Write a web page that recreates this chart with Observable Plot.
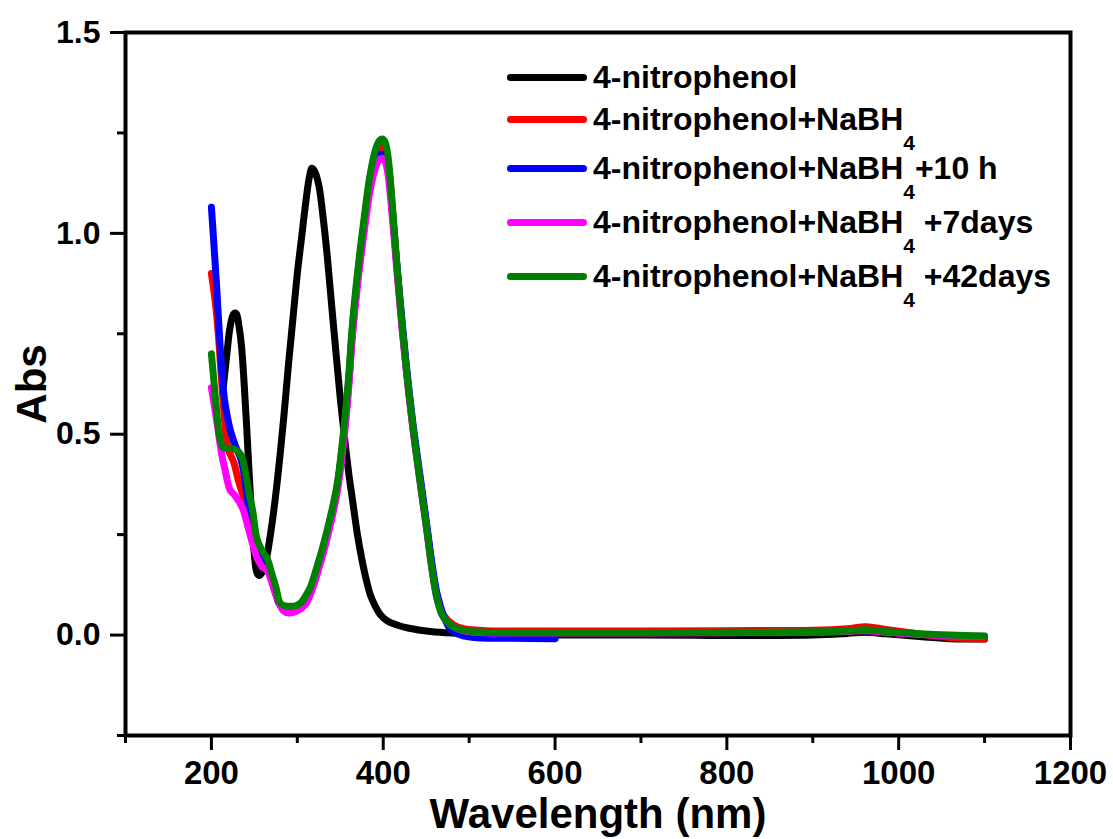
<!DOCTYPE html>
<html>
<head>
<meta charset="utf-8">
<script src="https://cdn.jsdelivr.net/npm/d3@7"></script>
<script src="https://cdn.jsdelivr.net/npm/@observablehq/plot@0.6"></script>
<style>
  html, body { margin: 0; padding: 0; background: #fff; }
  #wrap { position: relative; width: 1113px; height: 839px; }
  #wrap svg { position: absolute; left: 0; top: 0; }
  .leg { position: absolute; left: 0; top: 0; font-family: "Liberation Sans", Arial, sans-serif; font-weight: bold; font-size: 32px; color: #000; }
  .row { position: absolute; left: 507px; height: 0; white-space: nowrap; }
  .row .sw { position: absolute; left: 0; top: -3.5px; width: 80px; height: 7px; border-radius: 4px; }
  .row .tx { position: absolute; left: 86px; top: -19px; line-height: 38px; }
  .row sub { font-size: 21px; vertical-align: -20px; line-height: 0; }
</style>
</head>
<body>
<div id="wrap"></div>
<script>
// ---- data ----
const seriesNames = ["4-nitrophenol", "4-nitrophenol+NaBH4", "4-nitrophenol+NaBH4+10 h", "4-nitrophenol+NaBH4 +7days", "4-nitrophenol+NaBH4 +42days"];
const seriesColors = ["#000000", "#ff0000", "#0000ff", "#ff00ff", "#008000"];

const wlBlack = [214,218,222,226,229,232,235,238,241,244,247,250,253,256,260,264,268,272,276,280,285,290,295,300,305,310,314,317,320,325,330,335,340,346,350,354,360,364,370,375,380,385,390,397,405,416,430,455,480,520,600,700,800,900,940,962,985,1020,1060,1100];
const absBlack = [0.62,0.70,0.77,0.80,0.80,0.77,0.72,0.63,0.52,0.40,0.29,0.20,0.155,0.148,0.16,0.19,0.24,0.30,0.37,0.45,0.56,0.68,0.79,0.90,0.99,1.08,1.14,1.162,1.155,1.12,1.04,0.94,0.82,0.68,0.59,0.51,0.40,0.34,0.25,0.19,0.14,0.10,0.075,0.05,0.035,0.025,0.017,0.009,0.005,0.002,0.000,0.000,-0.001,0.000,0.004,0.007,0.003,-0.003,-0.009,-0.010];

const wlRed = [200,202,205,208,211,214,217,220,226,232,238,243,248,253,258,265,272,280,290,300,309,315,320,325,331,338,346,354,360,364,370,377,385,392,396,399,402,405,408,411,416,422,428,435,443,451,457,463,470,482,495,520,600,700,800,900,940,962,985,1020,1060,1100];
const absRed = [0.90,0.87,0.82,0.75,0.66,0.57,0.50,0.46,0.43,0.38,0.34,0.30,0.26,0.22,0.20,0.18,0.13,0.075,0.068,0.072,0.09,0.112,0.145,0.18,0.225,0.285,0.365,0.50,0.64,0.76,0.89,1.015,1.14,1.20,1.213,1.215,1.21,1.185,1.13,1.05,0.915,0.77,0.64,0.51,0.385,0.262,0.165,0.092,0.05,0.025,0.015,0.011,0.010,0.010,0.011,0.012,0.016,0.021,0.014,0.004,-0.006,-0.010];

const wlBlue = [200,203,206,209,212,215,218,222,226,230,234,238,243,248,253,258,265,272,280,290,300,309,315,320,325,331,338,346,354,360,364,370,377,385,392,396,399,402,405,408,411,416,422,428,435,443,451,457,463,470,478,490,510,550,600];
const absBlue = [1.065,0.97,0.87,0.76,0.66,0.59,0.55,0.51,0.483,0.46,0.44,0.40,0.32,0.26,0.22,0.20,0.18,0.13,0.075,0.066,0.07,0.088,0.11,0.142,0.177,0.222,0.28,0.36,0.495,0.63,0.75,0.88,1.00,1.12,1.18,1.195,1.197,1.19,1.17,1.12,1.045,0.92,0.78,0.65,0.52,0.395,0.27,0.175,0.10,0.05,0.015,0.000,-0.007,-0.008,-0.009];

const wlMagenta = [200,205,212,216,222,228,236,245,253,259,265,275,284,290,300,310,315,320,325,331,338,346,354,360,364,370,377,385,392,396,399,402,405,408,411,416,422,428,435,443,451,457,463,470,482,495,520,600,700,800,900,940,962,985,1020,1060,1100];
const absMagenta = [0.616,0.55,0.45,0.41,0.36,0.346,0.317,0.25,0.193,0.17,0.16,0.10,0.06,0.055,0.06,0.078,0.10,0.13,0.165,0.21,0.27,0.35,0.48,0.62,0.74,0.87,0.99,1.11,1.17,1.185,1.187,1.18,1.155,1.10,1.03,0.905,0.76,0.635,0.505,0.38,0.255,0.16,0.088,0.045,0.02,0.01,0.006,0.005,0.005,0.006,0.007,0.009,0.011,0.007,0.002,-0.002,-0.003];

const wlGreen = [200,203,206,210,214,220,226,232,236,240,244,248,253,259,265,270,275,280,285,292,298,304,309,315,320,325,331,338,346,354,360,364,370,377,385,392,396,399,402,405,408,411,416,422,428,435,443,451,457,463,470,482,495,520,600,700,800,900,940,962,985,1020,1060,1100];
const absGreen = [0.70,0.63,0.56,0.49,0.467,0.465,0.463,0.455,0.44,0.40,0.35,0.31,0.24,0.21,0.19,0.155,0.12,0.08,0.073,0.072,0.073,0.08,0.095,0.118,0.15,0.185,0.23,0.29,0.37,0.51,0.65,0.77,0.90,1.025,1.15,1.215,1.232,1.235,1.228,1.20,1.14,1.06,0.92,0.77,0.64,0.51,0.38,0.257,0.16,0.087,0.045,0.02,0.011,0.007,0.006,0.006,0.007,0.008,0.010,0.013,0.009,0.004,0.000,-0.002];

const xMajorTicks = [200, 400, 600, 800, 1000, 1200];
const xMinorTicks = [100, 300, 500, 700, 900, 1100];
const yMajorTicks = [0, 0.5, 1.0, 1.5];
const yMinorTicks = [-0.25, 0.25, 0.75, 1.25];
const xTitle = "Wavelength (nm)";
const yTitle = "Abs";

// ---- build ----
const wls = [wlBlack, wlRed, wlBlue, wlMagenta, wlGreen];
const abss = [absBlack, absRed, absBlue, absMagenta, absGreen];
const seriesData = wls.map((w, i) => w.map((x, j) => ({wl: x, abs: abss[i][j], series: seriesNames[i]})));

const sans = "'Liberation Sans', Arial, sans-serif";

const chart = Plot.plot({
  width: 1113,
  height: 839,
  marginLeft: 125,
  marginRight: 43,
  marginTop: 32,
  marginBottom: 104,
  style: {background: "white", overflow: "visible"},
  x: {domain: [100, 1200]},
  y: {domain: [-0.25, 1.5]},
  marks: [
    ...seriesData.map((d, i) => Plot.line(d, {
      x: "wl", y: "abs", stroke: seriesColors[i], strokeWidth: 7,
      curve: "catmull-rom", strokeLinecap: "round", strokeLinejoin: "round"
    })),
    Plot.frame({stroke: "#000", strokeWidth: 4}),
    Plot.axisX({ticks: xMajorTicks, tickSize: 15, tickPadding: 10, strokeWidth: 3,
      tickFormat: d => String(d), fontSize: 33, fontWeight: "bold", fontFamily: sans, label: null}),
    Plot.axisX({ticks: xMinorTicks, tickSize: 8, strokeWidth: 3, tickFormat: () => "", label: null}),
    Plot.axisY({ticks: yMajorTicks, tickSize: 15, tickPadding: 10, strokeWidth: 3,
      tickFormat: d3.format(".1f"), fontSize: 32, fontWeight: "bold", fontFamily: sans, label: null}),
    Plot.axisY({ticks: yMinorTicks, tickSize: 8, strokeWidth: 3, tickFormat: () => "", label: null}),
    Plot.text([xTitle], {text: d => d, frameAnchor: "bottom", dy: 79, textAnchor: "middle", lineAnchor: "middle",
      fontSize: 42, fontWeight: "bold", fontFamily: sans}),
    Plot.text([yTitle], {text: d => d, frameAnchor: "left", dx: -93, rotate: -90, textAnchor: "middle", lineAnchor: "middle",
      fontSize: 42, fontWeight: "bold", fontFamily: sans})
  ]
});

const wrap = document.getElementById("wrap");
wrap.appendChild(chart);

// ---- legend ----
const legendTops = [77, 119, 168, 222, 276];
const legendHtml = [
  "4-nitrophenol",
  "4-nitrophenol+NaBH<sub>4</sub>",
  "4-nitrophenol+NaBH<sub>4</sub>+10 h",
  "4-nitrophenol+NaBH<sub>4</sub> +7days",
  "4-nitrophenol+NaBH<sub>4</sub> +42days"
];
const leg = document.createElement("div");
leg.className = "leg";
seriesNames.forEach((n, i) => {
  const row = document.createElement("div");
  row.className = "row";
  row.style.top = legendTops[i] + "px";
  row.innerHTML = `<div class="sw" style="background:${seriesColors[i]}"></div><div class="tx">${legendHtml[i]}</div>`;
  leg.appendChild(row);
});
wrap.appendChild(leg);
</script>
</body>
</html>
